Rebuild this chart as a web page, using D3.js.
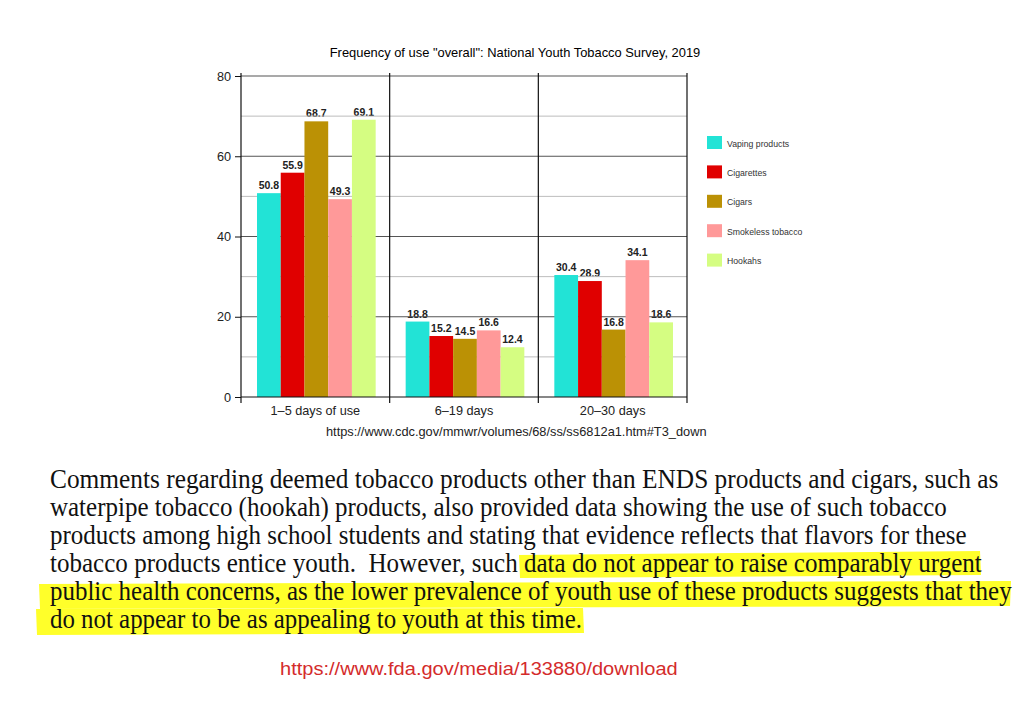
<!DOCTYPE html>
<html lang="en">
<head>
<meta charset="UTF-8">
<title>Frequency of use overall</title>
<script src="https://d3js.org/d3.v7.min.js"></script>
<style>
  body { margin: 0; background: #fff; }
  svg text { font-family: "Liberation Sans", Arial, sans-serif; }
</style>
</head>
<body>
<script>
const categories = ["1–5 days of use", "6–19 days", "20–30 days"];
const seriesNames = ["Vaping products", "Cigarettes", "Cigars", "Smokeless tobacco", "Hookahs"];
const vaping     = [50.8, 18.8, 30.4];
const cigarettes = [55.9, 15.2, 28.9];
const cigars     = [68.7, 14.5, 16.8];
const smokeless  = [49.3, 16.6, 34.1];
const hookahs    = [69.1, 12.4, 18.6];
const yTicks = [0, 20, 40, 60, 80];
const minorTicks = [10, 30, 50, 70];

const colors = ["#22e3d6", "#e00000", "#bb9105", "#ff9999", "#d5fd82"];
const allSeries = [vaping, cigarettes, cigars, smokeless, hookahs];

const paragraph = [
  "Comments regarding deemed tobacco products other than ENDS products and cigars, such as",
  "waterpipe tobacco (hookah) products, also provided data showing the use of such tobacco",
  "products among high school students and stating that evidence reflects that flavors for these",
  "tobacco products entice youth.  However, such data do not appear to raise comparably urgent",
  "public health concerns, as the lower prevalence of youth use of these products suggests that they",
  "do not appear to be as appealing to youth at this time."
];
const lineEnds = [999, 947, 967, 982, 1012, 582];

const W = 1029, H = 701;
const pLeft = 241, pRight = 687, pTop = 76, pBottom = 397;

const svg = d3.select("body").append("svg")
  .attr("width", W).attr("height", H);

const x0 = d3.scaleBand().domain(categories).range([pLeft, pRight]).padding(0);
const x1 = d3.scaleBand().domain(d3.range(seriesNames.length))
  .range([16, x0.bandwidth() - 14]).padding(0);
const y = d3.scaleLinear().domain([0, 80]).range([pBottom, pTop]);

// title
svg.append("text")
  .attr("x", 515).attr("y", 57)
  .attr("text-anchor", "middle")
  .style("font-size", "12.9px")
  .text('Frequency of use "overall": National Youth Tobacco Survey, 2019');

// data labels (under grid lines, like the original)
const groups = categories.map((c, ci) => ({
  cat: c,
  vals: allSeries.map((s, si) => ({ si: si, v: s[ci] }))
}));

const labelG = svg.append("g");
groups.forEach(g => {
  labelG.selectAll(null)
    .data(g.vals)
    .enter().append("text")
    .attr("x", d => x0(g.cat) + x1(d.si) + x1.bandwidth() / 2)
    .attr("y", d => y(d.v) - 4)
    .attr("text-anchor", "middle")
    .style("font-size", "10.5px")
    .style("font-weight", "bold")
    .style("fill", "#222")
    .text(d => d.v.toFixed(1));
});

// grid lines
svg.append("g").selectAll("line")
  .data(minorTicks).enter().append("line")
  .attr("x1", pLeft).attr("x2", pRight)
  .attr("y1", d => y(d)).attr("y2", d => y(d))
  .attr("stroke", "#bdbdbd").attr("stroke-width", 1);

svg.append("g").selectAll("line")
  .data(yTicks.filter(d => d > 0)).enter().append("line")
  .attr("x1", pLeft).attr("x2", pRight)
  .attr("y1", d => y(d)).attr("y2", d => y(d))
  .attr("stroke", "#555").attr("stroke-width", 1.2);

// bars
const barG = svg.append("g");
groups.forEach(g => {
  barG.selectAll(null)
    .data(g.vals)
    .enter().append("rect")
    .attr("x", d => x0(g.cat) + x1(d.si))
    .attr("width", x1.bandwidth())
    .attr("y", d => y(d.v))
    .attr("height", d => pBottom - y(d.v))
    .attr("fill", d => colors[d.si]);
});

// category dividers
svg.append("g").selectAll("line")
  .data(categories.slice(1).concat(["__end"])).enter().append("line")
  .attr("x1", d => d === "__end" ? pRight : x0(d))
  .attr("x2", d => d === "__end" ? pRight : x0(d))
  .attr("y1", pTop - 3).attr("y2", pBottom + 6)
  .attr("stroke", "#111").attr("stroke-width", 1.2);

// axes
const yAxis = d3.axisLeft(y).tickValues(yTicks).tickSize(6).tickPadding(4);
svg.append("g")
  .attr("transform", `translate(${pLeft},0)`)
  .call(yAxis)
  .call(g => g.select(".domain").attr("d", `M-0,${pTop - 3}V${pBottom + 6}`).attr("stroke", "#111").attr("stroke-width", 1.2))
  .call(g => g.selectAll(".tick line").attr("stroke", "#111"))
  .call(g => g.selectAll(".tick text")
    .style("font-size", "12.7px").style("fill", "#222")
    .style("font-family", '"Liberation Sans", Arial, sans-serif'));

const xAxis = d3.axisBottom(x0).tickSize(0).tickPadding(9);
svg.append("g")
  .attr("transform", `translate(0,${pBottom})`)
  .call(xAxis)
  .call(g => g.select(".domain").attr("d", `M${pLeft},0H${pRight}`).attr("stroke", "#111").attr("stroke-width", 1.2))
  .call(g => g.selectAll(".tick text")
    .style("font-size", "12.7px").style("fill", "#222")
    .style("font-family", '"Liberation Sans", Arial, sans-serif'));

// legend
const legend = svg.append("g").attr("transform", "translate(707,136)");
const lg = legend.selectAll("g").data(seriesNames).enter().append("g")
  .attr("transform", (d, i) => `translate(0,${i * 29.4})`);
lg.append("rect").attr("width", 15).attr("height", 13).attr("fill", (d, i) => colors[i]);
lg.append("text").attr("x", 20).attr("y", 10.5)
  .style("font-size", "8.7px").style("fill", "#333").text(d => d);

// source
svg.append("text")
  .attr("x", 326).attr("y", 436)
  .style("font-size", "12.8px").style("fill", "#222")
  .text("https://www.cdc.gov/mmwr/volumes/68/ss/ss6812a1.htm#T3_down");

// highlighter strokes
const hl = [
  [[519, 555], [980, 551], [981, 575], [520, 578]],
  [[39, 584], [1011, 581], [1010, 606], [40, 609]],
  [[36, 609], [583, 608], [584, 633], [37, 635]]
];
svg.append("g").selectAll("path").data(hl).enter().append("path")
  .attr("d", d => "M" + d.join("L") + "Z")
  .attr("fill", "#ffff2a");

// paragraph - squeeze each line horizontally to the width seen in the scan
svg.append("g").selectAll("text").data(paragraph).enter().append("text")
  .attr("x", 0).attr("y", 0)
  .style("white-space", "pre")
  .style("font-family", '"Liberation Serif", "Times New Roman", serif')
  .style("font-size", "27.5px")
  .style("fill", "#111")
  .text(d => d)
  .each(function(d, i) {
    const len = this.getComputedTextLength();
    const sx = (lineEnds[i] - 50) / len;
    d3.select(this).attr("transform", `translate(50,${488 + i * 28}) scale(${sx},1)`);
  });

// link
svg.append("text")
  .attr("y", 0)
  .style("font-size", "18.5px").style("fill", "#d42b2b")
  .text("https://www.fda.gov/media/133880/download")
  .each(function() {
    const sx = 398 / this.getComputedTextLength();
    d3.select(this).attr("transform", `translate(280,675) scale(${sx},1)`);
  });
</script>
</body>
</html>
